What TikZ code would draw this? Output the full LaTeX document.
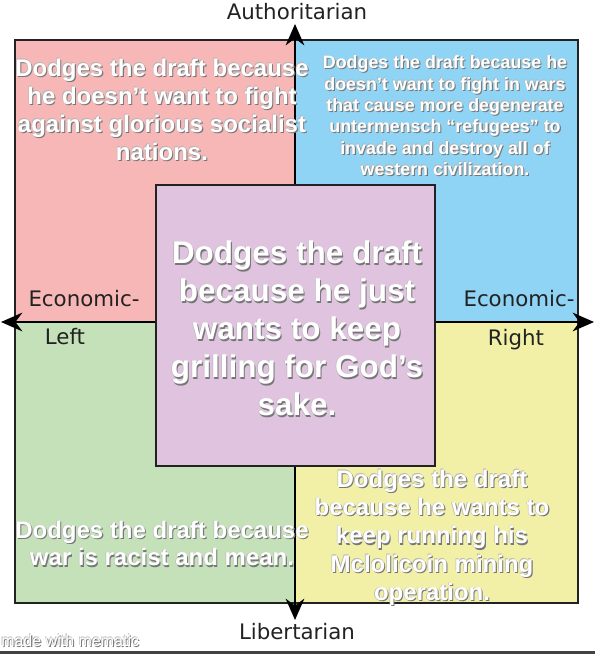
\documentclass[tikz,border=0pt]{standalone}
\usepackage{fontspec}
\setmainfont{Liberation Sans}
\newfontfamily\axisfont{DejaVu Sans}
\usetikzlibrary{arrows.meta, positioning}

\definecolor{authleftred}{HTML}{F7B7B7}
\definecolor{authrightblue}{HTML}{8FD4F4}
\definecolor{libleftgreen}{HTML}{C4E1B9}
\definecolor{librightyellow}{HTML}{F2F0A6}
\definecolor{centrepurple}{HTML}{DFC3DF}
\definecolor{edgegray}{HTML}{222222}
\definecolor{glyphshade}{HTML}{777777}

% white text with a soft grey shadow, one line at a time
\newcommand\sh[1]{%
  \rlap{\kern0.8pt\raisebox{-0.8pt}{\color{glyphshade}#1}}%
  \rlap{\kern-0.4pt\raisebox{0.4pt}{\color{glyphshade!55}#1}}%
  #1}

\begin{document}
\begin{tikzpicture}[x=0.75pt, y=-0.75pt,
    quad/.style={draw=edgegray, line width=1.2pt},
    centrebox/.style={draw=edgegray, line width=1.6pt, fill=centrepurple},
    axis/.style={line width=1.4pt, {Stealth[length=16pt,width=14pt]}-{Stealth[length=16pt,width=14pt]}},
    opinion/.style={text=white, align=center, inner sep=0pt},
    axislbl/.style={font=\axisfont\fontsize{16}{18}\selectfont, text=edgegray, inner sep=0pt}
]
\useasboundingbox (0,0) rectangle (595,654);

% quadrants
\draw[quad, fill=authleftred]    (15,40)   rectangle (295,322);
\draw[quad, fill=authrightblue]  (295,40)  rectangle (578,322);
\draw[quad, fill=libleftgreen]   (15,322)  rectangle (295,603);
\draw[quad, fill=librightyellow] (295,322) rectangle (578,603);

% axes
\coordinate (authtip)  at (295,24);
\coordinate (libtip)   at (295,620);
\coordinate (lefttip)  at (1,322);
\coordinate (righttip) at (594,322);
\draw[axis] (libtip) -- (authtip);
\draw[axis] (lefttip) -- (righttip);

\node[axislbl] (auth)  at (297,12)  {Authoritarian};
\node[axislbl] (lib)   at (297,632) {Libertarian};
\node[axislbl] (econl) at (84,299)  {Economic-};
\node[axislbl] (left)  at (65,337)  {Left};
\node[axislbl] (econr) at (519,299) {Economic-};
\node[axislbl] (right) at (516,340) {Right};

% quadrant opinions
\node[opinion, font=\bfseries\fontsize{18}{21}\selectfont] (authleft) at (162,110)
  {\sh{Dodges the draft because}\\\sh{he doesn’t want to fight}\\\sh{against glorious socialist}\\\sh{nations.}};
\node[opinion, font=\bfseries\fontsize{13.4}{16}\selectfont] (authright) at (445,116)
  {\sh{Dodges the draft because he}\\\sh{doesn’t want to fight in wars}\\\sh{that cause more degenerate}\\\sh{untermensch “refugees” to}\\\sh{invade and destroy all of}\\\sh{western civilization.}};
\node[opinion, font=\bfseries\fontsize{18}{20.5}\selectfont] (libleft) at (162,544)
  {\sh{Dodges the draft because}\\\sh{war is racist and mean.}};
\node[opinion, font=\bfseries\fontsize{18}{21.3}\selectfont] (libright) at (432,538)
  {\sh{Dodges the draft}\\\sh{because he wants to}\\\sh{keep running his}\\\sh{Mclolicoin mining}\\\sh{operation.}};

% centre
\draw[centrebox] (156,185) rectangle (435,466);
\node[opinion, font=\bfseries\fontsize{23.6}{28.5}\selectfont] (centre) at (297,329)
  {\sh{Dodges the draft}\\\sh{because he just}\\\sh{wants to keep}\\\sh{grilling for God’s}\\\sh{sake.}};

% watermark and bottom edge
\node[opinion, anchor=west, font=\fontsize{12}{13}\selectfont] (mematic) at (1,641)
  {\sh{made with mematic}};
\fill[edgegray!85] (0,651) rectangle (595,654);

\end{tikzpicture}
\end{document}
